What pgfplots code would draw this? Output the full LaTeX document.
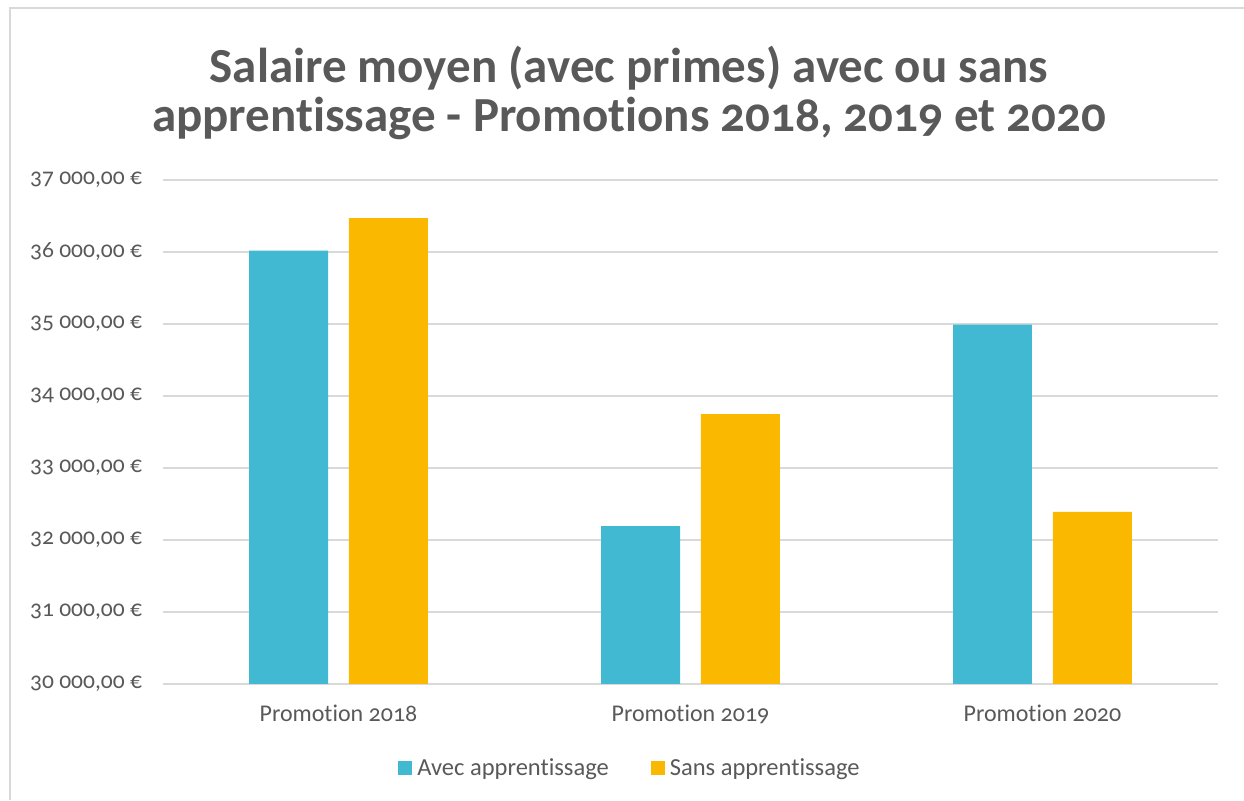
\documentclass[border=0pt]{standalone}
\usepackage{pgfplots}
\pgfplotsset{compat=1.18}
\usepackage{fontspec}
\setmainfont{Carlito}[Ligatures=NoCommon]
\newfontfamily\oldnum{Carlito}[Numbers=OldStyle, Ligatures=NoCommon]
\definecolor{txt}{HTML}{595959}
\definecolor{grd}{HTML}{D9D9D9}
\definecolor{cA}{HTML}{41B9D3}
\definecolor{cS}{HTML}{FAB800}
\begin{document}
\begin{tikzpicture}
\useasboundingbox (0,0) rectangle (1244pt,800pt);
\draw[grd, line width=1.5pt] (10pt,0) -- (10pt,792pt) -- (1244pt,792pt);
\node[anchor=base, text=txt, font=\fontsize{49}{54}\selectfont\oldnum\bfseries] at (629pt,717pt) {Salaire moyen (avec primes) avec ou sans};
\node[anchor=base, text=txt, font=\fontsize{49}{54}\selectfont\oldnum\bfseries] at (629pt,668pt) {apprentissage - Promotions 2018, 2019 et 2020};
\begin{axis}[
  at={(162.5pt,116pt)}, anchor=south west,
  scale only axis, width=1056pt, height=504pt,
  xmin=-0.5, xmax=2.5, ymin=30000, ymax=37000,
  scaled ticks=false,
  xtick={0,1,2},
  xticklabels={Promotion 2018, Promotion 2019, Promotion 2020},
  ytick={30000,31000,32000,33000,34000,35000,36000,37000},
  yticklabels={{30 000,00 €}, {31 000,00 €}, {32 000,00 €}, {33 000,00 €}, {34 000,00 €}, {35 000,00 €}, {36 000,00 €}, {37 000,00 €}},
  ymajorgrids, grid style={grd, line width=2pt},
  axis line style={draw=none},
  axis x line*=bottom,
  x axis line style={grd, line width=2pt},
  major tick length=0pt,
  tick style={draw=none},
  yticklabel style={text=txt, font=\fontsize{23.5}{26}\selectfont\oldnum, xshift=-17pt},
  xticklabel style={text=txt, font=\fontsize{24}{27}\selectfont\oldnum, yshift=-17pt},
  legend style={at={(0.4427,-0.1667)}, anchor=center, draw=none, fill=none,
    legend columns=2, font=\fontsize{24.5}{27}\selectfont, text=txt,
    /tikz/every odd column/.append style={column sep=3pt},
    /tikz/every even column/.append style={column sep=40pt}},
  legend image code/.code={\fill[#1] (0pt,-7pt) rectangle (14pt,7pt);},
]
\addplot[ybar, bar width=0.2244, bar shift=-0.142, fill=cA, draw=none] coordinates {(0,36020) (1,32194) (2,34990)};
\addlegendentry{Avec apprentissage}
\addplot[ybar, bar width=0.2244, bar shift=0.142, fill=cS, draw=none] coordinates {(0,36472) (1,33750) (2,32389)};
\addlegendentry{Sans apprentissage}
\end{axis}
\end{tikzpicture}
\end{document}
